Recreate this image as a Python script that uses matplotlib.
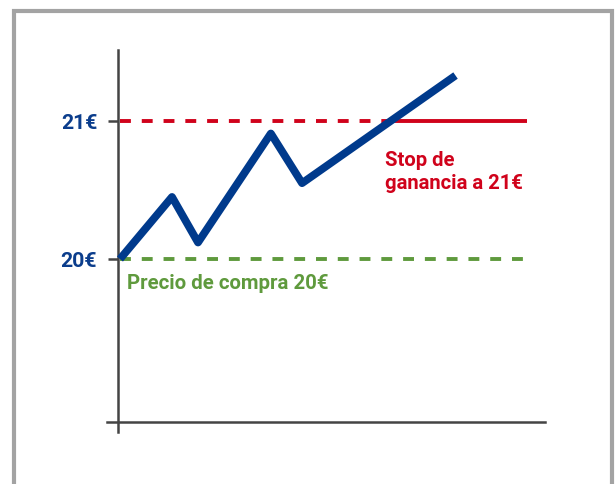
import matplotlib.pyplot as plt
from matplotlib.patches import Rectangle

plt.rcParams['font.family'] = ['Roboto', 'DejaVu Sans']

# precio a lo largo del tiempo
tiempo = [0, 1, 1.5, 2.9, 3.5, 6.45]
precio = [20.0, 20.45, 20.12, 20.91, 20.55, 21.33]

precio_compra = 20
stop_ganancia = 21
fin_linea = 7.83
inicio_solido = 5.23

yticks = [20, 21]
ytick_labels = ['20€', '21€']

azul = '#003a8c'
rojo = '#d0021b'
verde = '#5f9a3d'
gris = '#444444'

fig = plt.figure(figsize=(6.15, 4.84), dpi=100)
fig.patches.append(Rectangle((14 / 615, -0.1), 598 / 615, (484 - 11) / 484 + 0.1,
                             transform=fig.transFigure, fill=False,
                             edgecolor='#a3a3a3', linewidth=3))

ax = fig.add_axes([118 / 615, 62 / 484, 427 / 615, 372 / 484])
ax.set_xlim(-0.038, 8.17)
ax.set_ylim(18.819, 21.515)

for s in ax.spines.values():
    s.set_visible(False)
ax.plot([0, 0], [-10 / 372, 1], transform=ax.transAxes, color=gris, lw=1.8, clip_on=False)
ax.plot([-11 / 427, 1], [0, 0], transform=ax.transAxes, color=gris, lw=1.8, clip_on=False)

ax.plot([0, fin_linea], [precio_compra, precio_compra], color=verde, lw=2.8,
        linestyle=(0, (2.8, 2.8)), solid_capstyle='butt')
ax.plot([0, inicio_solido], [stop_ganancia, stop_ganancia], color=rojo, lw=2.8,
        linestyle=(0, (2.8, 2.8)))
ax.plot([inicio_solido, fin_linea], [stop_ganancia, stop_ganancia], color=rojo, lw=2.8,
        solid_capstyle='butt')

ax.plot(tiempo, precio, color=azul, lw=5.6, solid_capstyle='butt', clip_on=False)

ax.set_xticks([])
ax.set_yticks(yticks)
ax.set_yticklabels(ytick_labels, color='#0b3d8c', fontweight='bold', fontsize=15.3)
ax.tick_params(axis='y', length=7, width=1.8, color=gris, pad=8)

ax.text(0.13, 19.82, 'Precio de compra 20€', color=verde, fontweight='bold',
        fontsize=14.7, va='center', ha='left')
ax.text(5.1, 20.63, 'Stop de\nganancia a 21€', color=rojo, fontweight='bold',
        fontsize=14.6, va='center', ha='left', linespacing=1.3)

fig.savefig('out.png', dpi=100)
